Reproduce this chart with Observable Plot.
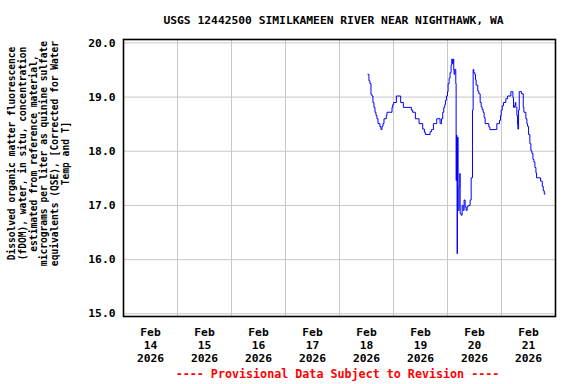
<!DOCTYPE html>
<html><head><meta charset="utf-8">
<script src="https://cdn.jsdelivr.net/npm/d3@7"></script>
<script src="https://cdn.jsdelivr.net/npm/@observablehq/plot@0.6"></script>
<style>body{margin:0;background:#fff;overflow:hidden}</style>
</head><body><div id="chart"></div>
<script>
const title = "USGS 12442500 SIMILKAMEEN RIVER NEAR NIGHTHAWK, WA";
const yLabelLines = [
  "Dissolved organic matter fluorescence",
  "(fDOM), water, in situ, concentration",
  "estimated from reference material,",
  "micrograms per liter as quinine sulfate",
  "equivalents (QSE), [Corrected for Water",
  "Temp and T]"
];
const footer = "---- Provisional Data Subject to Revision ----";

const times = [
"2026-02-18T12:38","2026-02-18T13:05","2026-02-18T13:32","2026-02-18T13:59","2026-02-18T14:26","2026-02-18T14:52","2026-02-18T15:19","2026-02-18T15:46","2026-02-18T16:13","2026-02-18T16:39","2026-02-18T17:06","2026-02-18T17:59","2026-02-18T18:26","2026-02-18T18:53","2026-02-18T19:19","2026-02-18T19:46","2026-02-18T20:49","2026-02-18T21:06","2026-02-18T23:20","2026-02-18T23:38",
"2026-02-19T00:04","2026-02-19T01:16","2026-02-19T03:11","2026-02-19T04:23","2026-02-19T07:56","2026-02-19T08:32","2026-02-19T09:43","2026-02-19T11:21","2026-02-19T12:59","2026-02-19T13:44","2026-02-19T14:10","2026-02-19T16:15","2026-02-19T16:50","2026-02-19T17:44","2026-02-19T19:13","2026-02-19T20:42","2026-02-19T21:18","2026-02-19T21:53","2026-02-19T22:20","2026-02-19T22:47","2026-02-19T23:05","2026-02-19T23:31",
"2026-02-20T00:00","2026-02-20T00:16","2026-02-20T00:43","2026-02-20T01:09","2026-02-20T01:36","2026-02-20T01:54","2026-02-20T02:12","2026-02-20T02:29","2026-02-20T02:47","2026-02-20T02:56","2026-02-20T03:14","2026-02-20T03:41","2026-02-20T03:50","2026-02-20T03:59","2026-02-20T04:08","2026-02-20T04:16","2026-02-20T04:25","2026-02-20T04:43","2026-02-20T05:10","2026-02-20T05:28","2026-02-20T05:37","2026-02-20T06:04","2026-02-20T06:30","2026-02-20T06:57","2026-02-20T07:23","2026-02-20T07:50","2026-02-20T08:17","2026-02-20T08:44","2026-02-20T09:10","2026-02-20T10:04","2026-02-20T10:31","2026-02-20T11:06","2026-02-20T11:24","2026-02-20T11:41","2026-02-20T12:08","2026-02-20T12:26","2026-02-20T12:44","2026-02-20T13:28","2026-02-20T13:55","2026-02-20T14:31","2026-02-20T14:58","2026-02-20T15:24","2026-02-20T15:51","2026-02-20T16:17","2026-02-20T16:44","2026-02-20T18:22","2026-02-20T18:49","2026-02-20T21:56","2026-02-20T23:07","2026-02-20T23:34","2026-02-20T23:52",
"2026-02-21T00:19","2026-02-21T00:54","2026-02-21T01:56","2026-02-21T02:41","2026-02-21T04:10","2026-02-21T04:37","2026-02-21T05:04","2026-02-21T05:21","2026-02-21T05:48","2026-02-21T06:06","2026-02-21T06:23","2026-02-21T06:50","2026-02-21T07:08","2026-02-21T07:17","2026-02-21T07:35","2026-02-21T07:53","2026-02-21T08:55","2026-02-21T09:40","2026-02-21T09:57","2026-02-21T10:50","2026-02-21T11:17","2026-02-21T11:35","2026-02-21T12:02","2026-02-21T12:37","2026-02-21T13:04","2026-02-21T13:31","2026-02-21T13:58","2026-02-21T14:25","2026-02-21T14:51","2026-02-21T15:18","2026-02-21T15:35","2026-02-21T17:22","2026-02-21T18:07","2026-02-21T18:34","2026-02-21T19:01","2026-02-21T19:27"
];
const values = [
19.42,19.30,19.25,19.05,19.02,18.90,18.81,18.72,18.66,18.60,18.51,18.45,18.40,18.46,18.51,18.60,18.66,18.72,18.81,18.86,
18.90,19.02,18.90,18.81,18.76,18.72,18.60,18.51,18.41,18.35,18.31,18.36,18.40,18.51,18.60,18.51,18.60,18.72,18.81,18.86,18.94,19.02,
19.10,19.25,19.35,19.45,19.59,19.70,19.62,19.70,19.50,19.42,19.51,19.25,17.46,18.30,17.46,16.11,18.26,16.91,17.35,17.59,16.85,16.82,17.00,16.91,17.10,16.97,16.91,16.98,17.00,17.10,17.51,18.76,19.51,19.45,19.42,19.32,19.22,19.11,19.06,18.90,18.82,18.77,18.72,18.62,18.51,18.45,18.40,18.51,18.57,18.66,18.76,
18.84,18.90,18.97,19.02,19.10,19.10,18.99,18.81,18.84,18.90,18.81,18.66,18.49,18.41,18.76,19.10,19.06,18.81,18.72,18.60,18.51,18.46,18.31,18.14,18.01,17.96,17.85,17.80,17.70,17.60,17.51,17.45,17.35,17.27,17.21,17.21
];
const dayLabels = ["2026-02-14T12:00","2026-02-15T12:00","2026-02-16T12:00","2026-02-17T12:00","2026-02-18T12:00","2026-02-19T12:00","2026-02-20T12:00","2026-02-21T12:00"];
const gridDays = ["2026-02-15T00:00","2026-02-16T00:00","2026-02-17T00:00","2026-02-18T00:00","2026-02-19T00:00","2026-02-20T00:00","2026-02-21T00:00"];
const xDomain = ["2026-02-14T00:00","2026-02-22T00:00"];
const yTicks = [15, 16, 17, 18, 19, 20];
const yDomain = [14.95, 20.063];

const parse = s => new Date(s + "Z");
const data = times.map((t, i) => ({t: parse(t), v: values[i]}));
const fmtTick = d3.utcFormat("%b\n%d\n%Y");

const chart = Plot.plot({
  width: 576, height: 384,
  marginLeft: 123, marginRight: 21, marginTop: 39, marginBottom: 68,
  style: {fontFamily: "'DejaVu Sans Mono', monospace", fontWeight: "bold", fontSize: "11px", background: "white", color: "black"},
  x: {type: "utc", domain: xDomain.map(parse)},
  y: {domain: yDomain},
  marks: [
    Plot.gridX(gridDays.map(parse), {stroke: "#c8c8c8", strokeOpacity: 1, strokeWidth: 1}),
    Plot.gridY(yTicks, {stroke: "#c8c8c8", strokeOpacity: 1, strokeWidth: 1}),
    Plot.axisX(dayLabels.map(parse), {tickSize: 0, tickPadding: 10, tickFormat: fmtTick, lineHeight: 1.16, label: null, fontSize: 11.3}),
    Plot.axisY(yTicks, {tickSize: 0, tickPadding: 8, tickFormat: d3.format(".1f"), label: null, fontSize: 11.3}),
    Plot.line(data, {x: "t", y: "v", curve: "step-after", stroke: "#0000ff", strokeWidth: 1}),
    Plot.frame({stroke: "black", strokeWidth: 1.6}),
    Plot.text([title], {frameAnchor: "top", lineAnchor: "middle", dy: -19, dx: -6, fontSize: 11.3}),
    Plot.text([yLabelLines.join("\n")], {frameAnchor: "left", textAnchor: "middle", lineAnchor: "middle", rotate: -90, dx: -85, dy: -24.5, fontSize: 9.6, lineHeight: 1.14}),
    Plot.text([footer], {frameAnchor: "bottom", lineAnchor: "middle", dy: 58, dx: -2, fill: "red", fontSize: 11.7})
  ]
});
document.getElementById("chart").appendChild(chart);
</script>
</body></html>
